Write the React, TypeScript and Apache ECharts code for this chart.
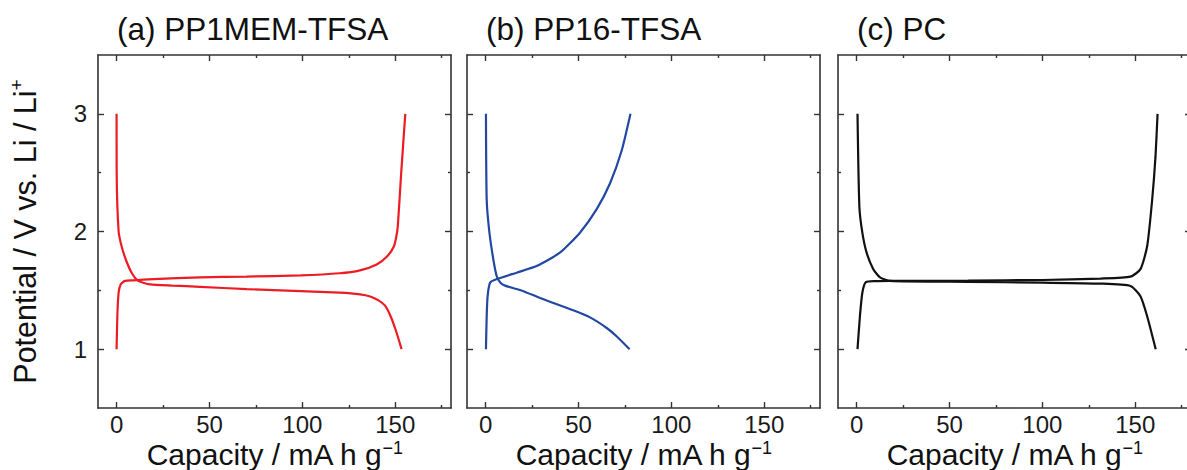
import React, { useEffect, useRef } from "react";
import * as echarts from "echarts";

const panelTitles = ["(a) PP1MEM-TFSA", "(b) PP16-TFSA", "(c) PC"];
const seriesColors = ["#ec1c24", "#2348a2", "#111111"];

const xMajorTicks = [0, 50, 100, 150];
const xMinorTicks = [25, 75, 125, 175];
const yMajorTicks = [1, 2, 3];
const yMinorTicks = [1.5, 2.5];

// Panel (a) PP1MEM-TFSA
const capA_charge = [0, 0.4, 1.1, 2.2, 4.5, 9, 20, 45, 70, 99, 120, 131, 140, 145.7, 149.3, 150.6, 151.4, 153.2, 155.4];
const vA_charge = [1.0, 1.28, 1.48, 1.55, 1.58, 1.585, 1.595, 1.61, 1.617, 1.627, 1.645, 1.67, 1.72, 1.79, 1.875, 1.96, 2.05, 2.5, 3.0];
const capA_dis = [0, 0.05, 1.1, 2.7, 5, 8.1, 11.7, 18, 30, 45, 70, 99, 120, 131, 136.5, 141, 144.5, 147.5, 150.5, 153.4];
const vA_dis = [3.0, 2.5, 2.0, 1.875, 1.76, 1.65, 1.58, 1.55, 1.54, 1.53, 1.51, 1.494, 1.48, 1.466, 1.448, 1.415, 1.37, 1.28, 1.15, 1.0];

// Panel (b) PP16-TFSA
const capB_charge = [0.2, 0.6, 1.1, 2.4, 5.1, 16.7, 27.5, 40, 50.8, 59.8, 67, 73.3, 78];
const vB_charge = [1.0, 1.28, 1.45, 1.565, 1.59, 1.65, 1.706, 1.82, 1.99, 2.19, 2.41, 2.69, 3.0];
const capB_dis = [0.2, 0.6, 2.0, 4.2, 6.0, 8.0, 10.5, 20, 29.3, 47.2, 56.2, 65.2, 70.5, 77.5];
const vB_dis = [3.0, 2.27, 2.0, 1.76, 1.62, 1.565, 1.54, 1.495, 1.435, 1.33, 1.27, 1.18, 1.11, 1.0];

// Panel (c) PC
const capC_charge = [0.5, 1.8, 3.1, 5, 10, 18, 60, 100, 131.3, 147.4, 152.8, 156.4, 159.1, 160.9, 162];
const vC_charge = [1.0, 1.28, 1.48, 1.57, 1.578, 1.58, 1.583, 1.588, 1.6, 1.616, 1.68, 1.875, 2.27, 2.64, 3.0];
const capC_dis = [0.5, 1.5, 3.1, 5.4, 9, 12.6, 18, 60, 100, 131.3, 147.4, 152.8, 156.4, 161];
const vC_dis = [3.0, 2.21, 1.99, 1.82, 1.68, 1.61, 1.58, 1.572, 1.565, 1.557, 1.537, 1.45, 1.28, 1.0];

const panels = [
  [[capA_charge, vA_charge], [capA_dis, vA_dis]],
  [[capB_charge, vB_charge], [capB_dis, vB_dis]],
  [[capC_charge, vC_charge], [capC_dis, vC_dis]],
];

const FONT = "'Liberation Sans', Arial, sans-serif";
const gridLefts = [98, 467, 838];
const GRID_W = 353;
const GRID_TOP = 55;
const GRID_H = 353;
const AXIS_COLOR = "#333";

function zip(xs: number[], ys: number[]) {
  return xs.map((x, i) => [x, ys[i]]);
}

export default function App() {
  const ref = useRef<HTMLDivElement>(null);
  useEffect(() => {
    if (!ref.current) return;
    const chart = echarts.init(ref.current, undefined, { renderer: "svg" });
    const grids: any[] = [];
    const xAxes: any[] = [];
    const yAxes: any[] = [];
    const series: any[] = [];
    const graphics: any[] = [];

    const richX = {
      base: { fontSize: 30, fontFamily: FONT, color: "#111", lineHeight: 30 },
      sup: { fontSize: 18, fontFamily: FONT, color: "#111", verticalAlign: "top", lineHeight: 30, padding: [0, 0, 5, 0] },
    };
    const richY = {
      base: { fontSize: 30.5, fontFamily: FONT, color: "#111", lineHeight: 35 },
      sup: { fontSize: 19, fontFamily: FONT, color: "#111", verticalAlign: "top", lineHeight: 35, padding: [0, 0, 14, 0] },
    };

    const line = { show: true, onZero: false, lineStyle: { color: AXIS_COLOR, width: 1.6 } };
    const noLine = { show: false, onZero: false };
    const tickStyle = { color: AXIS_COLOR, width: 1.4 };

    panels.forEach((panel, i) => {
      grids.push({ left: gridLefts[i], top: GRID_TOP, width: GRID_W, height: GRID_H, containLabel: false, outerBoundsMode: "none" });
      const xBase = {
        type: "value",
        gridIndex: i,
        min: -10,
        max: 180,
        splitLine: { show: false },
      };
      const mainX = xAxes.length;
      xAxes.push({
        ...xBase,
        position: "bottom",
        axisLine: line,
        axisTick: { show: true, inside: true, length: 6, customValues: xMajorTicks, lineStyle: tickStyle },
        axisLabel: { show: true, customValues: xMajorTicks, fontSize: 24, fontFamily: FONT, color: "#1a1a1a", margin: 4 },
        name: "{base|Capacity / mA h g}{sup|\u22121}",
        nameLocation: "middle",
        nameGap: 31,
        nameMoveOverlap: false,
        nameTextStyle: { rich: richX },
      });
      xAxes.push({
        ...xBase,
        position: "bottom",
        axisLine: noLine,
        axisTick: { show: true, inside: true, length: 3, customValues: xMinorTicks, lineStyle: tickStyle },
        axisLabel: { show: false },
      });
      xAxes.push({
        ...xBase,
        position: "top",
        axisLine: line,
        axisTick: { show: true, inside: true, length: 6, customValues: xMajorTicks, lineStyle: tickStyle },
        axisLabel: { show: false },
      });
      xAxes.push({
        ...xBase,
        position: "top",
        axisLine: noLine,
        axisTick: { show: true, inside: true, length: 3, customValues: xMinorTicks, lineStyle: tickStyle },
        axisLabel: { show: false },
      });

      const yBase = {
        type: "value",
        gridIndex: i,
        min: 0.5,
        max: 3.5,
        splitLine: { show: false },
      };
      const mainY = yAxes.length;
      yAxes.push({
        ...yBase,
        position: "left",
        axisLine: line,
        axisTick: { show: true, inside: true, length: 6, customValues: yMajorTicks, lineStyle: tickStyle },
        axisLabel: { show: i === 0, customValues: yMajorTicks, fontSize: 24, fontFamily: FONT, color: "#1a1a1a", margin: 11 },
        ...(i === 0
          ? {
              name: "{base|Potential / V vs. Li / Li}{sup|+}",
              nameLocation: "middle",
              nameGap: 56,
              nameRotate: 90,
              nameMoveOverlap: false,
              nameTextStyle: { rich: richY },
            }
          : {}),
      });
      yAxes.push({
        ...yBase,
        position: "left",
        axisLine: noLine,
        axisTick: { show: true, inside: true, length: 3, customValues: yMinorTicks, lineStyle: tickStyle },
        axisLabel: { show: false },
      });
      yAxes.push({
        ...yBase,
        position: "right",
        axisLine: line,
        axisTick: { show: true, inside: true, length: 6, customValues: yMajorTicks, lineStyle: tickStyle },
        axisLabel: { show: false },
      });
      yAxes.push({
        ...yBase,
        position: "right",
        axisLine: noLine,
        axisTick: { show: true, inside: true, length: 3, customValues: yMinorTicks, lineStyle: tickStyle },
        axisLabel: { show: false },
      });

      panel.forEach(([xs, ys]) => {
        series.push({
          type: "line",
          xAxisIndex: mainX,
          yAxisIndex: mainY,
          data: zip(xs as number[], ys as number[]),
          showSymbol: false,
          smooth: 0.2,
          lineStyle: { color: seriesColors[i], width: 2.2 },
          itemStyle: { color: seriesColors[i] },
          silent: true,
        });
      });

      graphics.push({
        type: "text",
        left: gridLefts[i] + 19,
        top: 13,
        style: { text: panelTitles[i], fontSize: 31.5, fontFamily: FONT, fill: "#111" },
      });
    });

    chart.setOption({
      animation: false,
      backgroundColor: "#fff",
      grid: grids,
      xAxis: xAxes,
      yAxis: yAxes,
      series,
      graphic: graphics,
    });
    return () => chart.dispose();
  }, []);
  return <div ref={ref} style={{ position: "absolute", left: 0, top: 0, width: 1187, height: 470 }} />;
}
